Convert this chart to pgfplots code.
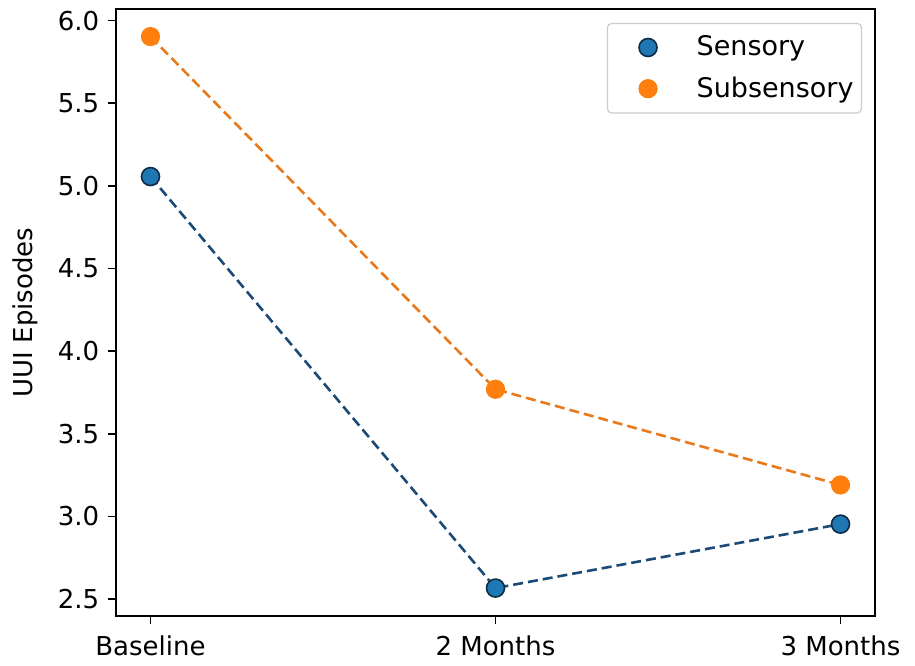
\documentclass[border=0pt]{standalone}
\usepackage{pgfplots}
\pgfplotsset{compat=1.18}
\usepackage{fontspec}
\setmainfont{DejaVu Sans}
\definecolor{mblue}{HTML}{1F77B4}
\definecolor{eblue}{HTML}{0E2C48}
\definecolor{lblue}{HTML}{1A4A75}
\definecolor{morange}{HTML}{FF7F0E}
\definecolor{lorange}{HTML}{E8791C}
\begin{document}
\fontsize{26}{31}\selectfont
\begin{tikzpicture}
\begin{axis}[name=ax, width=759pt, height=607pt, scale only axis,
  xmin=-0.1, xmax=2.1, ymin=2.397, ymax=6.07,
  xtick={0,1,2}, xticklabels={Baseline,2 Months,3 Months},
  ytick={2.5,3.0,3.5,4.0,4.5,5.0,5.5,6.0},
  yticklabel style={/pgf/number format/fixed, /pgf/number format/fixed zerofill, /pgf/number format/precision=1},
  xticklabel style={yshift=-3pt},
  /pgf/number format/assume math mode=true,
  tick label style={font=\fontsize{26}{31}\selectfont},
  tick align=outside, major tick length=8pt,
  every tick/.style={line width=1.6pt, black},
  axis line style={line width=1.6pt},
  xtick pos=left, ytick pos=left,
  ylabel={UUI Episodes},
  every axis y label/.style={at={(axis description cs:-0.1094,0.5)}, anchor=base, rotate=90, font=\fontsize{26}{31}\selectfont},
  legend style={at={(axis description cs:0.983,0.977)}, anchor=north east, draw=black!20, rounded corners=4pt, line width=1.2pt, font=\fontsize{27}{32}\selectfont, inner xsep=6pt, inner ysep=10pt, row sep=13pt},
  legend cell align=left,
  legend image code/.code={\path (0pt,0pt) (80pt,0pt); \draw[#1] plot coordinates {(34pt,0pt)};},
]
\addplot[forget plot, color=lblue, line width=2.6pt, dash pattern=on 10pt off 5pt] coordinates {(0,5.056) (1,2.566) (2,2.953)};
\addplot[forget plot, color=lorange, line width=2.6pt, dash pattern=on 10pt off 5pt] coordinates {(0,5.903) (1,3.769) (2,3.19)};
\addplot[only marks, mark=*, mark size=9pt, mark options={fill=mblue, draw=eblue, line width=1.6pt}] coordinates {(0,5.056) (1,2.566) (2,2.953)};
\addlegendentry{Sensory}
\addplot[only marks, mark=*, mark size=9pt, mark options={fill=morange, draw=morange, line width=1.2pt}] coordinates {(0,5.903) (1,3.769) (2,3.19)};
\addlegendentry{Subsensory}
\end{axis}
\path ([shift={(-116pt,-50pt)}]ax.south west) rectangle ([shift={(40pt,9pt)}]ax.north east);
\end{tikzpicture}
\end{document}
